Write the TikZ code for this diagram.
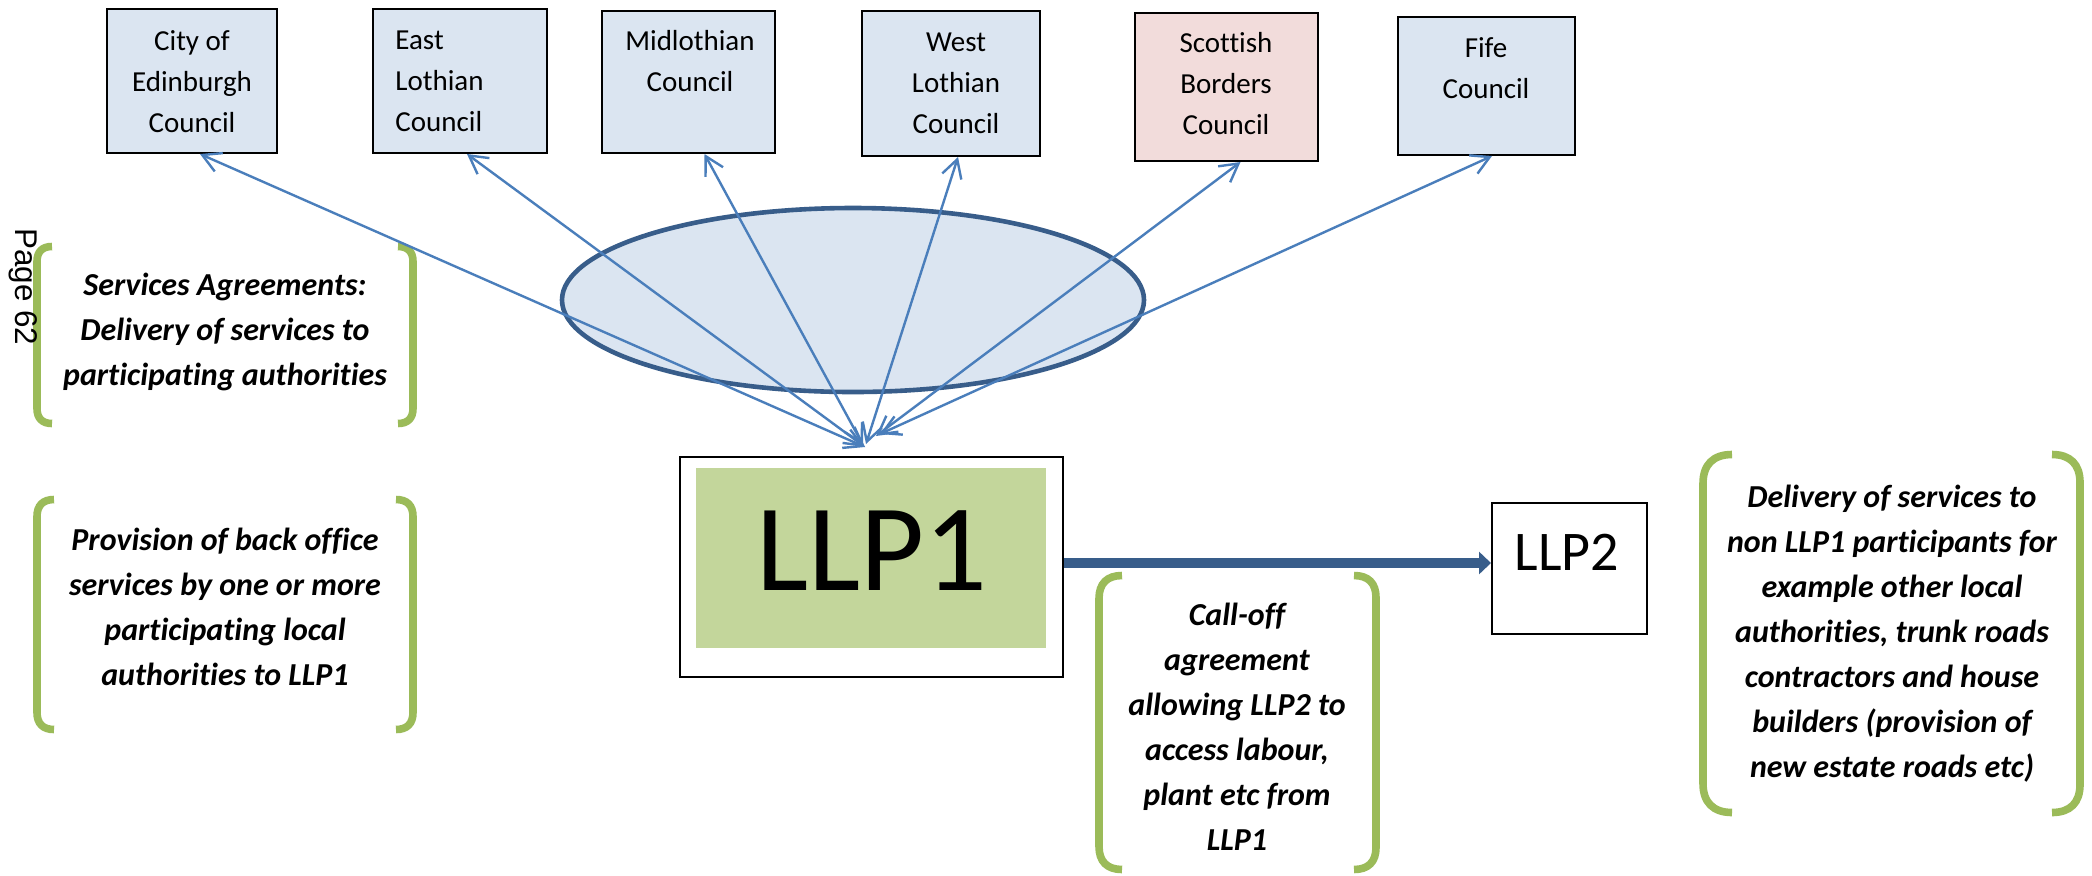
\documentclass[tikz,border=0pt]{standalone}
\usepackage{fontspec}
\setmainfont{Carlito}[Ligatures=NoCommon]
\newfontfamily\pagefont{Liberation Sans}
\usetikzlibrary{arrows.meta,shapes.geometric}
\definecolor{boxblue}{HTML}{DBE5F1}
\definecolor{boxpink}{HTML}{F2DCDB}
\definecolor{arrblue}{HTML}{4A7EBB}
\definecolor{darkblue}{HTML}{385D8A}
\definecolor{brgreen}{HTML}{9BBB59}
\definecolor{llpgreen}{HTML}{C3D69B}
\newcommand\mylbrk[4]{\draw[brk] ({#1+#4},#2) .. controls ({#1+0.35*#4},#2) and (#1,{#2+0.35*#4}) .. (#1,{#2+#4}) -- (#1,{#3-#4}) .. controls (#1,{#3-0.35*#4}) and ({#1+0.35*#4},#3) .. ({#1+#4},#3);}
\newcommand\myrbrk[4]{\draw[brk] ({#1-#4},#2) .. controls ({#1-0.35*#4},#2) and (#1,{#2+0.35*#4}) .. (#1,{#2+#4}) -- (#1,{#3-#4}) .. controls (#1,{#3-0.35*#4}) and ({#1-0.35*#4},#3) .. ({#1-#4},#3);}
\begin{document}
\begin{tikzpicture}[x=0.5pt,y=-0.5pt,
  council/.style={draw=black,line width=1pt,fill=boxblue,inner sep=0},
  ctxt/.style={font=\fontsize{14.5}{20.5}\selectfont,align=center,inner sep=0,anchor=north},
  brtxt/.style={font=\fontsize{16}{22.5}\selectfont\bfseries\itshape,align=center,inner sep=0,anchor=north},
  brk/.style={draw=brgreen,line width=3.8pt},
  conn/.style={draw=arrblue,line width=1.2pt,{Straight Barb[length=9pt,width=10pt]}-{Straight Barb[length=9pt,width=10pt]}},
  ]
\fill[white] (0,0) rectangle (2092,875);
\useasboundingbox (0,0) rectangle (2092,875);

% hub ellipse
\node[ellipse,draw=darkblue,line width=2.3pt,fill=boxblue,minimum width=291pt,minimum height=92pt,inner sep=0] (hub) at (853,300) {};

% council boxes
\node[council,minimum width=85pt,minimum height=72pt] (city) at (192,81) {};
\node[council,minimum width=86.75pt,minimum height=72pt] (east) at (460,81) {};
\node[council,minimum width=86.5pt,minimum height=71pt] (mid) at (688.5,82) {};
\node[council,minimum width=89pt,minimum height=72.5pt] (west) at (951,83.5) {};
\node[council,fill=boxpink,minimum width=91.5pt,minimum height=74pt] (scot) at (1226.5,87) {};
\node[council,minimum width=88.5pt,minimum height=69pt] (fife) at (1486.5,86) {};

\node[ctxt] (cityT) at (192,21) {\strut City of\\Edinburgh\\Council};
\node[ctxt,align=left,anchor=north west] (eastT) at (395,20) {\strut East\\Lothian\\Council};
\node[ctxt] (midT) at (690,21) {\strut Midlothian\\Council};
\node[ctxt] (westT) at (956,22) {\strut West\\Lothian\\Council};
\node[ctxt] (scotT) at (1226,23) {\strut Scottish\\Borders\\Council};
\node[ctxt] (fifeT) at (1486,28) {\strut Fife\\Council};

% LLP1 and LLP2
\node[draw=black,line width=1pt,minimum width=191.5pt,minimum height=110pt,inner sep=0] (llp1) at (871.5,567) {};
\node[fill=llpgreen,minimum width=175pt,minimum height=90pt,inner sep=0] (llp1in) at (871,558) {};
\node[font=\fontsize{62}{70}\selectfont,anchor=base,inner sep=0] (llp1T) at (872,590) {LLP1};
\node[draw=black,line width=1pt,minimum width=77.5pt,minimum height=65.5pt,inner sep=0] (llp2) at (1569.5,568.5) {};
\node[font=\fontsize{28}{32}\selectfont,anchor=base,inner sep=0] (llp2T) at (1567,570) {LLP2};

\draw[darkblue,line width=5pt,-{Triangle[length=6pt,width=11pt]}] ([yshift=2pt]llp1.east) -- ([yshift=2pt]llp1.east -| llp2.west);

% brackets
\mylbrk{37}{246.5}{423.5}{15}
\myrbrk{413}{246.5}{423.5}{15}
\mylbrk{37}{499.5}{729.5}{17}
\myrbrk{413}{499.5}{729.5}{17}
\mylbrk{1099}{575.5}{869.5}{23}
\myrbrk{1376}{575.5}{869.5}{22}
\mylbrk{1703}{454.5}{812.5}{29}
\myrbrk{2080}{454.5}{812.5}{28}

\node[brtxt] (t1) at (225,263.5) {\strut Services Agreements:\\Delivery of services to\\participating authorities};
\node[brtxt] (t2) at (225,518.5) {\strut Provision of back office\\services by one or more\\participating local\\authorities to LLP1};
\node[brtxt] (t3) at (1237,593.5) {\strut Call-off\\agreement\\allowing LLP2 to\\access labour,\\plant etc from\\LLP1};
\node[brtxt] (t4) at (1892,475.5) {\strut Delivery of services to\\non LLP1 participants for\\example other local\\authorities, trunk roads\\contractors and house\\builders (provision of\\new estate roads etc)};

% page label
\node[font=\pagefont\fontsize{15.7}{18}\selectfont,rotate=-90,anchor=base west,inner sep=0] (page) at (15,228) {Page 62};

% connectors
\coordinate (eCity) at (865,447);
\coordinate (eEast) at (865,447);
\coordinate (eMid) at (863,445);
\coordinate (eWest) at (866,444);
\coordinate (eScot) at (876,436);
\coordinate (eFife) at (880,434);
\draw[conn] (eCity) -- ([xshift=4pt]city.south);
\draw[conn] (eEast) -- ([xshift=3.5pt]east.south);
\draw[conn] (eMid) -- ([xshift=8pt]mid.south);
\draw[conn] (eWest) -- ([xshift=3.5pt]west.south);
\draw[conn] (eScot) -- ([xshift=7pt]scot.south);
\draw[conn] (eFife) -- ([xshift=2.75pt]fife.south);
\end{tikzpicture}
\end{document}
